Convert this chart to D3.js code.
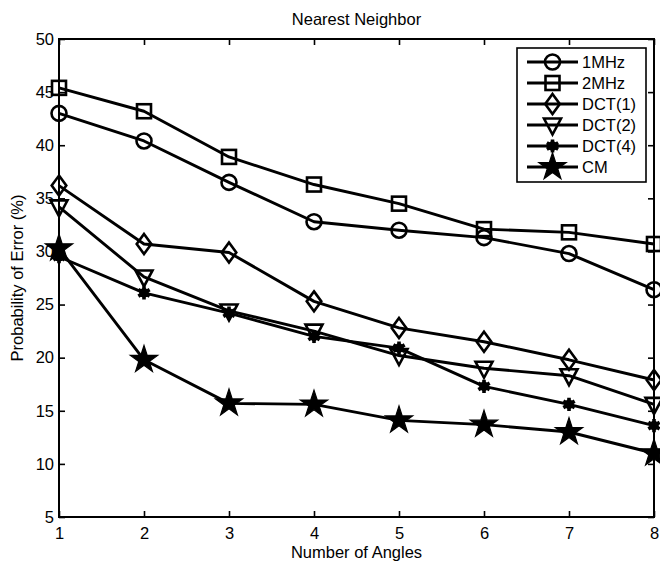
<!DOCTYPE html>
<html><head><meta charset="utf-8">
<script src="https://cdn.jsdelivr.net/npm/d3@7"></script>
<style>body{margin:0;background:#fff}svg{display:block}</style>
</head><body>
<script>
const angles = [1,2,3,4,5,6,7,8];
const mhz1  = [43.0,40.4,36.5,32.8,32.0,31.3,29.8,26.4];
const mhz2  = [45.4,43.2,38.9,36.3,34.5,32.1,31.8,30.7];
const dct1  = [36.2,30.7,29.9,25.3,22.8,21.5,19.8,17.9];
const dct2  = [34.2,27.6,24.4,22.5,20.2,19.0,18.3,15.6];
const dct4  = [29.5,26.1,24.2,22.0,20.9,17.3,15.6,13.6];
const cm    = [30.3,19.8,15.7,15.6,14.1,13.7,13.0,11.0];
const seriesNames = ["1MHz","2MHz","DCT(1)","DCT(2)","DCT(4)","CM"];
const seriesValues = [mhz1,mhz2,dct1,dct2,dct4,cm];
const markers = ["circle","square","diamond","triangle","asterisk","star"];
const yTicks = [5,10,15,20,25,30,35,40,45,50];
const xTicks = [1,2,3,4,5,6,7,8];
const title = "Nearest Neighbor";
const xLabel = "Number of Angles";
const yLabel = "Probability of Error (%)";

const W=660,H=565;
const m={l:59,r:6,t:39,b:48};
const svg=d3.select("body").append("svg").attr("width",W).attr("height",H);
const x=d3.scaleLinear().domain([1,8]).range([m.l,W-m.r]);
const y=d3.scaleLinear().domain([5,50]).range([H-m.b,m.t]);
const font="Liberation Sans, Arial, sans-serif";
const fs=16.5;

// frame
svg.append("rect").attr("x",x(1)).attr("y",y(50)).attr("width",x(8)-x(1)).attr("height",y(5)-y(50))
  .attr("fill","none").attr("stroke","#000").attr("stroke-width",2);

const tl=6;
const ax=svg.append("g").attr("transform",`translate(0,${y(5)})`).call(d3.axisBottom(x).tickValues(xTicks).tickSizeInner(-tl).tickSizeOuter(0).tickPadding(10).tickFormat(d3.format("d")));
const axT=svg.append("g").attr("transform",`translate(0,${y(50)})`).call(d3.axisTop(x).tickValues(xTicks).tickSizeInner(-tl).tickSizeOuter(0).tickFormat(""));
const ay=svg.append("g").attr("transform",`translate(${x(1)},0)`).call(d3.axisLeft(y).tickValues(yTicks).tickSizeInner(-tl).tickSizeOuter(0).tickPadding(5).tickFormat(d3.format("d")));
const ayR=svg.append("g").attr("transform",`translate(${x(8)},0)`).call(d3.axisRight(y).tickValues(yTicks).tickSizeInner(-tl).tickSizeOuter(0).tickFormat(""));
[ax,axT,ay,ayR].forEach(g=>{g.select(".domain").remove();g.selectAll("line").attr("stroke","#000").attr("stroke-width",1.6);
  g.selectAll("text").attr("font-family",font).attr("font-size",fs).attr("fill","#000");});

svg.append("text").attr("x",(x(1)+x(8))/2).attr("y",25).attr("text-anchor","middle").attr("font-family",font).attr("font-size",fs).text(title);
svg.append("text").attr("x",(x(1)+x(8))/2).attr("y",558).attr("text-anchor","middle").attr("font-family",font).attr("font-size",fs).text(xLabel);
svg.append("text").attr("transform",`translate(23,${(y(5)+y(50))/2}) rotate(-90)`).attr("text-anchor","middle").attr("font-family",font).attr("font-size",fs).text(yLabel);

function drawMarker(g,type,cx,cy){
  const s=g.append("g").attr("transform",`translate(${cx},${cy})`);
  const st={stroke:"#000","stroke-width":2.6,fill:"none"};
  let e;
  if(type==="circle") e=s.append("circle").attr("r",7.5);
  else if(type==="square") e=s.append("rect").attr("x",-7).attr("y",-7).attr("width",14).attr("height",14);
  else if(type==="diamond") e=s.append("path").attr("d","M0,-10L7.3,0L0,10L-7.3,0Z");
  else if(type==="triangle") e=s.append("path").attr("d","M-8.5,-6.5L8.5,-6.5L0,9.5Z");
  else if(type==="asterisk"){
    e=s.append("path").attr("d",d3.symbol(d3.symbolAsterisk,120)()).attr("stroke-width",3.6);
    s.append("circle").attr("r",4.8).attr("fill","#000");
  }
  else if(type==="star"){ e=s.append("path").attr("d",d3.symbol(d3.symbolStar,230)()).attr("fill","#000").attr("stroke","#000").attr("stroke-width",1.2); return; }
  Object.entries(st).forEach(([k,v])=>{ if(e.attr(k)===null) e.attr(k,v); });
}

const line=d3.line().x((d,i)=>x(angles[i])).y(d=>y(d));
seriesValues.forEach((vals,si)=>{
  const g=svg.append("g");
  g.append("path").attr("d",line(vals)).attr("fill","none").attr("stroke","#000").attr("stroke-width",2.9).attr("stroke-linejoin","round");
  vals.forEach((v,i)=>drawMarker(g,markers[si],x(angles[i]),y(v)));
});

// legend
const lg=svg.append("g");
lg.append("rect").attr("x",517).attr("y",48).attr("width",129).attr("height",134).attr("fill","#fff").attr("stroke","#000").attr("stroke-width",1.6);
seriesNames.forEach((n,i)=>{
  const yy=62+i*21;
  lg.append("line").attr("x1",527).attr("x2",578).attr("y1",yy).attr("y2",yy).attr("stroke","#000").attr("stroke-width",2.9);
  drawMarker(lg,markers[i],552.5,yy);
  lg.append("text").attr("x",582).attr("y",yy+6).attr("font-family",font).attr("font-size",fs).text(n);
});
</script>
</body></html>
